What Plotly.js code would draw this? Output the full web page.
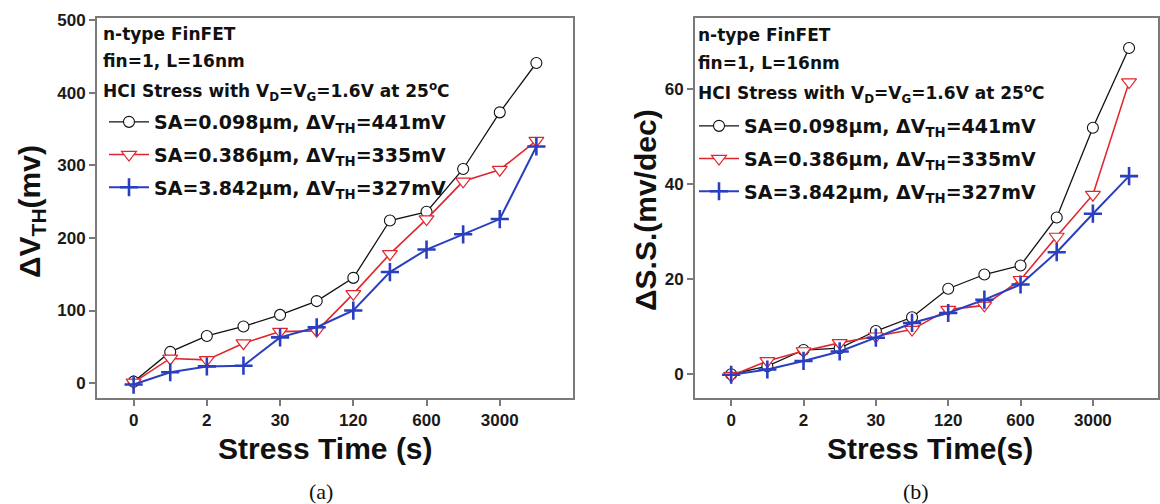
<!DOCTYPE html>
<html>
<head>
<meta charset="utf-8">
<script src="https://cdn.plot.ly/plotly-3.0.1.min.js"></script>
<style>html,body{margin:0;padding:0;background:#fff;}#chart{width:1160px;height:504px;}</style>
</head>
<body>
<div id="chart"></div>
<script>
// Stress steps (index along the x axis) and labelled ticks
const steps = [0, 1, 2, 3, 4, 5, 6, 7, 8, 9, 10, 11];
const tickSteps = [0, 2, 4, 6, 8, 10];
const tickLabels = ['0', '2', '30', '120', '600', '3000'];

const seriesNames = [
  'SA=0.098μm, ΔV<sub>TH</sub>=441mV',
  'SA=0.386μm, ΔV<sub>TH</sub>=335mV',
  'SA=3.842μm, ΔV<sub>TH</sub>=327mV'
];

// Panel (a): ΔVTH (mV)
const dVth_SA0098 = [2, 43, 65, 78, 94, 113, 145, 224, 236, 295, 373, 441];
const dVth_SA0386 = [1, 34, 32, 55, 71, 72, 123, 178, 226, 278, 294, 334];
const dVth_SA3842 = [-2, 15, 23, 24, 63, 77, 100, 153, 184, 205, 226, 326];

// Panel (b): ΔS.S. (mV/dec)
const dSS_SA0098 = [0, 1.7, 5.1, 5.5, 9.1, 12, 18, 21, 22.9, 33, 51.9, 68.7];
const dSS_SA0386 = [-0.3, 2.8, 4.9, 6.6, 8, 9.4, 13.6, 14.5, 19.9, 29, 37.8, 61.5];
const dSS_SA3842 = [-0.1, 1, 2.8, 4.8, 7.7, 10.8, 12.9, 15.7, 18.9, 25.7, 33.8, 41.7];

const W = 1160, H = 504;
const px = v => v / W;
const py = v => 1 - v / H;

const styles = [
  {line: {color: '#111111', width: 1.3}, marker: {symbol: 'circle', size: 11, color: '#ffffff', line: {color: '#111111', width: 1.1}}},
  {line: {color: '#e0262d', width: 1.6}, marker: {symbol: 'triangle-down', size: 13, color: '#ffffff', line: {color: '#e0262d', width: 1.2}}},
  {line: {color: '#2a3fc0', width: 2}, marker: {symbol: 'cross-thin', size: 13, color: '#2a3fc0', line: {color: '#2a3fc0', width: 2.6}}}
];

const panelA = [dVth_SA0098, dVth_SA0386, dVth_SA3842];
const panelB = [dSS_SA0098, dSS_SA0386, dSS_SA3842];

const traces = [];
panelA.forEach((ys, i) => traces.push(Object.assign({
  x: steps, y: ys, type: 'scatter', mode: 'lines+markers', name: '<b>' + seriesNames[i] + '</b>',
  xaxis: 'x', yaxis: 'y', legend: 'legend', legendgroup: 'a' + i
}, styles[i])));
panelB.forEach((ys, i) => traces.push(Object.assign({
  x: steps, y: ys, type: 'scatter', mode: 'lines+markers', name: '<b>' + seriesNames[i] + '</b>',
  xaxis: 'x2', yaxis: 'y2', legend: 'legend2', legendgroup: 'b' + i
}, styles[i])));

const tickFont = {family: 'Liberation Sans, Arial, sans-serif', size: 17, color: '#1a1a1a', weight: 'bold'};
const axisLine = {showline: true, linecolor: '#7a7a7a', linewidth: 2, mirror: true, showgrid: false, zeroline: false,
  ticks: 'outside', ticklen: 6, tickwidth: 2, tickcolor: '#7a7a7a', tickfont: tickFont};

const xCommon = Object.assign({}, axisLine, {tickmode: 'array', tickvals: tickSteps, ticktext: tickLabels});

const legFont = {family: 'DejaVu Sans, sans-serif', size: 19, color: '#111111'};
const legendBase = {font: legFont, bgcolor: 'rgba(0,0,0,0)', borderwidth: 0, xanchor: 'left', yanchor: 'top',
  tracegroupgap: 5, itemwidth: 40, orientation: 'v'};

const headFont = {family: 'DejaVu Sans, sans-serif', size: 17, color: '#111111'};
const titleFont = {family: 'Liberation Sans, Arial, sans-serif', size: 30, color: '#111111'};
const capFont = {family: 'Liberation Serif, Times New Roman, serif', size: 22, color: '#111111'};

const headLines = ['n-type FinFET', 'fin=1, L=16nm', 'HCI Stress with V<sub>D</sub>=V<sub>G</sub>=1.6V at 25<sup>o</sup>C'];
const headYA = [34, 61, 91];
const headYB = [35, 63, 93];

const annotations = [];
headLines.forEach((t, i) => {
  annotations.push({text: '<b>' + t + '</b>', xref: 'paper', yref: 'paper', x: px(101), y: py(headYA[i]), xanchor: 'left', yanchor: 'middle', showarrow: false, font: headFont});
  annotations.push({text: '<b>' + t + '</b>', xref: 'paper', yref: 'paper', x: px(696), y: py(headYB[i]), xanchor: 'left', yanchor: 'middle', showarrow: false, font: headFont});
});
annotations.push({text: '<b>ΔV<sub>TH</sub>(mv)</b>', xref: 'paper', yref: 'paper', x: px(31), y: py(212), textangle: -90, xanchor: 'center', yanchor: 'middle', showarrow: false, font: titleFont});
annotations.push({text: '<b>ΔS.S.(mv/dec)</b>', xref: 'paper', yref: 'paper', x: px(645), y: py(210), textangle: -90, xanchor: 'center', yanchor: 'middle', showarrow: false, font: titleFont});
annotations.push({text: '<b>Stress Time (s)</b>', xref: 'paper', yref: 'paper', x: px(325), y: py(448), xanchor: 'center', yanchor: 'middle', showarrow: false, font: titleFont});
annotations.push({text: '<b>Stress Time(s)</b>', xref: 'paper', yref: 'paper', x: px(930), y: py(448), xanchor: 'center', yanchor: 'middle', showarrow: false, font: titleFont});
annotations.push({text: '(a)', xref: 'paper', yref: 'paper', x: px(321), y: py(491), xanchor: 'center', yanchor: 'middle', showarrow: false, font: capFont});
annotations.push({text: '(b)', xref: 'paper', yref: 'paper', x: px(916), y: py(491), xanchor: 'center', yanchor: 'middle', showarrow: false, font: capFont});

const layout = {
  width: W, height: H,
  margin: {l: 0, r: 0, t: 0, b: 0},
  paper_bgcolor: '#ffffff', plot_bgcolor: '#ffffff',
  showlegend: true,
  xaxis: Object.assign({}, xCommon, {domain: [px(97), px(573)], range: [-1, 12], anchor: 'y'}),
  yaxis: Object.assign({}, axisLine, {domain: [py(398), py(18)], range: [-20.5, 503], tickvals: [0, 100, 200, 300, 400, 500], anchor: 'x'}),
  xaxis2: Object.assign({}, xCommon, {domain: [px(695), px(1158)], range: [-1, 11.8], anchor: 'y2'}),
  yaxis2: Object.assign({}, axisLine, {domain: [py(398), py(18)], range: [-5, 75], tickvals: [0, 20, 40, 60], anchor: 'x2'}),
  legend: Object.assign({}, legendBase, {x: px(104), y: py(103)}),
  legend2: Object.assign({}, legendBase, {x: px(694), y: py(107)}),
  annotations: annotations
};

Plotly.newPlot('chart', traces, layout, {displayModeBar: false});
</script>
</body>
</html>
